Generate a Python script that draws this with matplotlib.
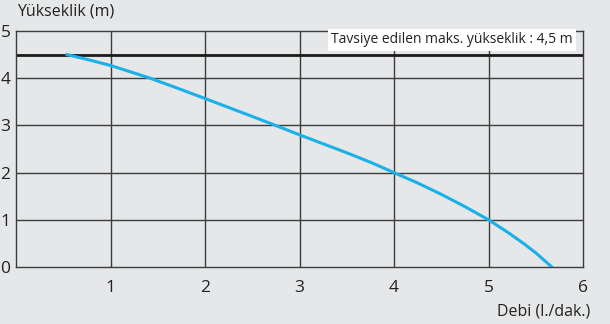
import numpy as np
from matplotlib import pyplot as plt

# debit (l/min) vs height (m)
debi = [0.54, 0.75, 1.0, 1.25, 1.42, 1.68, 2.0, 2.5, 2.72, 3.0, 3.25, 3.5, 3.75,
        4.0, 4.25, 4.5, 4.75, 5.0, 5.2, 5.37, 5.5, 5.67]
height = [4.5, 4.4, 4.27, 4.11, 4.0, 3.81, 3.57, 3.19, 3.02, 2.8, 2.61, 2.42, 2.22,
          2.0, 1.78, 1.54, 1.28, 1.0, 0.74, 0.5, 0.3, 0.0]
max_height = 4.5
xticks = [1, 2, 3, 4, 5, 6]
yticks = [0, 1, 2, 3, 4, 5]

plt.rcParams['font.family'] = ['Open Sans', 'DejaVu Sans']
bg = '#e6e7e8'
grid = '#3c3c3c'

fig = plt.figure(figsize=(6.1, 3.24), dpi=100, facecolor=bg)
ax = fig.add_axes([16/610, 57/324, 567/610, 236/324])
ax.set_facecolor(bg)
ax.set_xlim(0, 6)
ax.set_ylim(0, 5)

for x in xticks[:-1]:
    ax.axvline(x, color=grid, lw=1.0, zorder=1)
for y in yticks[1:-1]:
    ax.axhline(y, color=grid, lw=1.0, zorder=1)
for s in ax.spines.values():
    s.set_color(grid)
    s.set_linewidth(1.0)

ax.axhline(max_height, color='#1a1a1a', lw=2.0, zorder=2)
ax.plot(debi, height, color='#1ab0e8', lw=2.2, zorder=3, solid_joinstyle='round')

ax.text(5.89, 4.81, 'Tavsiye edilen maks. yükseklik : 4,5 m', ha='right', va='center',
        fontsize=10, color='#222222', zorder=4,
        bbox=dict(facecolor='white', edgecolor='none', pad=2.5))

ax.set_xticks(xticks)
ax.set_yticks(yticks)
ax.tick_params(axis='both', length=0, labelsize=12.5, colors='#222222')
ax.tick_params(axis='x', pad=9)
ax.tick_params(axis='y', pad=4)

fig.text(17/610, 1 - 11/324, 'Yükseklik (m)', ha='left', va='center', fontsize=11.5, color='#222222')
fig.text(590/610, 1 - 311/324, 'Debi (l./dak.)', ha='right', va='center', fontsize=11.5, color='#222222')

fig.savefig('out.png', dpi=100, facecolor=bg)
